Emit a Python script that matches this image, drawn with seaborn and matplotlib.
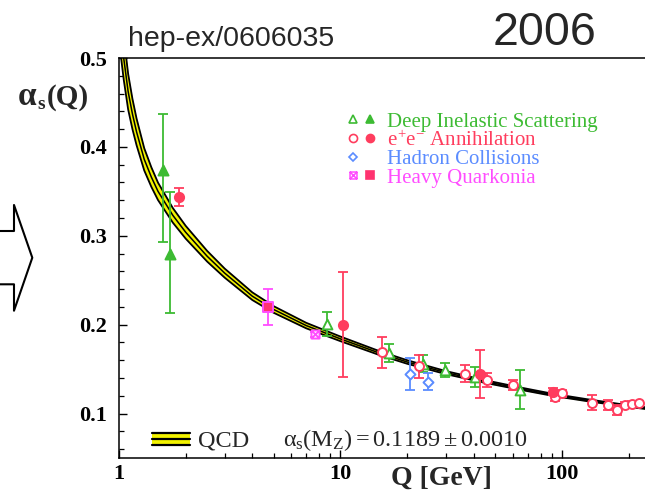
import matplotlib
matplotlib.use("Agg")
import matplotlib.pyplot as plt
import seaborn as sns
import numpy as np
from matplotlib.lines import Line2D
from matplotlib.patches import Rectangle
from matplotlib.path import Path
from matplotlib.legend_handler import HandlerTuple
from matplotlib.ticker import LogLocator, NullFormatter, MultipleLocator

# ---------------- data ----------------
# QCD running coupling band (central value and half-width)
qcd_Q = [1.02, 1.05, 1.1, 1.15, 1.2, 1.3, 1.4, 1.5, 1.75, 2.0, 2.5, 3.0, 4.0, 5.0,
         7.0, 10, 15, 20, 30, 45, 65, 91.2, 130, 180, 240]
qcd_a = [0.53, 0.50, 0.462, 0.437, 0.417, 0.386, 0.366, 0.350, 0.323, 0.304, 0.277,
         0.258, 0.232, 0.217, 0.199, 0.184, 0.168, 0.158, 0.146, 0.136, 0.128,
         0.121, 0.115, 0.110, 0.106]
qcd_hw = [0.028, 0.024, 0.020, 0.017, 0.015, 0.0125, 0.011, 0.0098, 0.0082, 0.0072,
          0.006, 0.0051, 0.0043, 0.0037, 0.0031, 0.0026, 0.0022, 0.002, 0.0017,
          0.0015, 0.0013, 0.0012, 0.0011, 0.001, 0.001]

# Deep inelastic scattering
dis_fill_Q = [1.575, 1.70]
dis_fill_a = [0.374, 0.279]
dis_fill_lo = [0.081, 0.066]
dis_fill_hi = [0.063, 0.070]
dis_open_Q = [8.66, 16.6, 23.6, 29.6, 40.5, 64.6]
dis_open_a = [0.201, 0.168, 0.156, 0.149, 0.141, 0.127]
dis_open_e = [0.0135, 0.010, 0.0095, 0.008, 0.011, 0.0215]

# e+e- annihilation
ee_fill_Q = [1.866, 10.23, 42.6, 91.2]
ee_fill_a = [0.344, 0.200, 0.144, 0.1245]
ee_fill_e = [0.010, 0.059, 0.027, 0.004]
ee_open_Q = [15.35, 22.5, 36.5, 46.0, 59.9, 92.7, 99.9, 136, 162, 178, 192, 206, 223]
ee_open_a = [0.169, 0.153, 0.145, 0.1376, 0.132, 0.1182, 0.1227, 0.112, 0.1096,
             0.104, 0.1096, 0.1107, 0.1115]
ee_open_e = [0.0175, 0.0125, 0.010, 0.008, 0.006, 0.004, 0.004, 0.0085, 0.0055,
             0.006, 0.003, 0.003, 0.003]

# Hadron collisions
had_Q = [20.6, 24.9]
had_a = [0.1444, 0.1357]
had_e = [0.018, 0.0095]

# Heavy quarkonia
hq_fill_Q = [4.72]
hq_fill_a = [0.220]
hq_fill_e = [0.020]
hq_open_Q = [7.67]
hq_open_a = [0.189]
hq_open_e = [0.003]

legend_labels = ["Deep Inelastic Scattering", r"$e^{+}e^{-}$ Annihilation",
                 "Hadron Collisions", "Heavy Quarkonia"]
x_ticks = [1, 10, 100]
x_ticklabels = ["1", "10", "100"]
y_ticks = [0.1, 0.2, 0.3, 0.4, 0.5]
y_ticklabels = ["0.1", "0.2", "0.3", "0.4", "0.5"]

# ---------------- style ----------------
GREEN = "#3dbb33"
RED = "#ff3d5e"
BLUE = "#5b8cff"
MAGENTA = "#ff4dff"
QRED = "#ff3370"
YELLOW = "#f2f200"

sns.set_theme(style="ticks")
plt.rcParams.update({
    "font.family": ["Liberation Serif", "DejaVu Serif"],
    "mathtext.fontset": "custom",
    "mathtext.rm": "Liberation Serif",
    "mathtext.it": "Liberation Serif",
    "mathtext.bf": "Liberation Serif:bold",
    "axes.linewidth": 1.1,
    "axes.edgecolor": "black",
    "xtick.direction": "in",
    "ytick.direction": "in",
    "xtick.color": "black",
    "ytick.color": "black",
})

W, H = 645, 497
fig = plt.figure(figsize=(W / 100, H / 100), dpi=100)
ax = fig.add_axes([119 / W, 1 - 458 / H, (W - 119) / W, (458 - 58) / H])
ax.set_xscale("log")

# box-with-cross marker
boxx = Path([(-1, -1), (1, -1), (1, 1), (-1, 1), (-1, -1), (-1, -1), (1, 1), (-1, 1), (1, -1)],
            [Path.MOVETO, Path.LINETO, Path.LINETO, Path.LINETO, Path.CLOSEPOLY,
             Path.MOVETO, Path.LINETO, Path.MOVETO, Path.LINETO])

# QCD band
q = np.array(qcd_Q)
a = np.array(qcd_a)
hw = np.array(qcd_hw)
ax.fill_between(q, a - hw, a + hw, color=YELLOW, lw=0, zorder=2)
sns.lineplot(x=q, y=a + hw, color="black", lw=1.3, ax=ax, zorder=3)
sns.lineplot(x=q, y=a - hw, color="black", lw=1.3, ax=ax, zorder=3)
sns.lineplot(x=q, y=a, color="black", lw=1.1, ax=ax, zorder=3)


def group(Q, A, lo, hi, color, marker, face, size, z=5):
    ax.errorbar(Q, A, yerr=[lo, hi], fmt="none", ecolor=color, elinewidth=1.3,
                capsize=3.8, capthick=1.3, zorder=z)
    sns.scatterplot(x=Q, y=A, marker=marker, s=size, color=face, edgecolor=color,
                    linewidth=1.4, ax=ax, zorder=z + 0.1, legend=False)


group(dis_fill_Q, dis_fill_a, dis_fill_lo, dis_fill_hi, GREEN, "^", GREEN, 52)
group(dis_open_Q, dis_open_a, dis_open_e, dis_open_e, GREEN, "^", "white", 50)
group(ee_open_Q, ee_open_a, ee_open_e, ee_open_e, RED, "o", "white", 42)
group(ee_fill_Q, ee_fill_a, ee_fill_e, ee_fill_e, RED, "o", RED, 44, z=6)
group(had_Q, had_a, had_e, had_e, BLUE, "D", "white", 26)
group(hq_fill_Q, hq_fill_a, hq_fill_e, hq_fill_e, MAGENTA, "s", QRED, 42)
group(hq_open_Q, hq_open_a, hq_open_e, hq_open_e, MAGENTA, boxx, "white", 34)

# axes
ax.set_xlim(1, 237)
ax.set_ylim(0.05, 0.5)
ax.set_xticks(x_ticks)
ax.set_xticklabels(x_ticklabels)
ax.xaxis.set_minor_locator(LogLocator(base=10, subs=np.arange(2, 10)))
ax.xaxis.set_minor_formatter(NullFormatter())
ax.set_yticks(y_ticks)
ax.set_yticklabels(y_ticklabels)
ax.yaxis.set_minor_locator(MultipleLocator(0.02))
ax.spines["right"].set_visible(False)
ax.tick_params(axis="both", which="major", length=6, width=1.0, labelsize=16)
ax.tick_params(axis="both", which="minor", length=3.5, width=0.9)
ax.tick_params(axis="y", pad=9)
ax.tick_params(axis="x", pad=4)
for t in ax.get_xticklabels() + ax.get_yticklabels():
    t.set_fontweight("bold")

ax.set_xlabel("Q [GeV]", fontsize=20, fontweight="bold")
ax.xaxis.set_label_coords((441 - 119) / 526, -(466 - 458) / 400)

# y label  alpha_s(Q)  in bold serif, built from pieces
fig.text(18 / W, 1 - 105 / H, "α", fontsize=24, fontweight="bold", va="baseline", ha="left")
fig.text(37 / W, 1 - 109 / H, "s", fontsize=14, fontweight="bold", va="baseline", ha="left")
fig.text(47 / W, 1 - 105 / H, "(Q)", fontsize=21, fontweight="bold", va="baseline", ha="left")

# category legend
ms = 5.8
h_dis = (Line2D([], [], ls="none", marker="^", mfc="white", mec=GREEN, ms=ms, mew=1.2),
         Line2D([], [], ls="none", marker="^", mfc=GREEN, mec=GREEN, ms=ms, mew=1.2))
h_ee = (Line2D([], [], ls="none", marker="o", mfc="white", mec=RED, ms=ms, mew=1.2),
        Line2D([], [], ls="none", marker="o", mfc=RED, mec=RED, ms=ms, mew=1.2))
h_had = (Line2D([], [], ls="none", marker="D", mfc="white", mec=BLUE, ms=4.4, mew=1.2),
         Line2D([], [], ls="none"))
h_hq = (Line2D([], [], ls="none", marker=boxx, mfc="white", mec=MAGENTA, ms=5, mew=1.1),
        Line2D([], [], ls="none", marker="s", mfc=QRED, mec=QRED, ms=ms, mew=1.2))
leg = ax.legend([h_dis, h_ee, h_had, h_hq], legend_labels,
                handler_map={tuple: HandlerTuple(ndivide=None, pad=0.2)},
                loc="upper left", bbox_to_anchor=(347 / W, 1 - 112 / H),
                bbox_transform=fig.transFigure, frameon=False, fontsize=15,
                handlelength=1.4, handletextpad=0.5, labelspacing=-0.05,
                borderpad=0, borderaxespad=0)
for t, c in zip(leg.get_texts(), [GREEN, RED, BLUE, MAGENTA]):
    t.set_color(c)

# QCD legend entry at the bottom
x0, x1 = (152 - 119) / 526, (190 - 119) / 526
yb, yt = (458 - 445) / 400, (458 - 433) / 400
ax.add_patch(Rectangle((x0, yb), x1 - x0, yt - yb, transform=ax.transAxes,
                       facecolor=YELLOW, edgecolor="none", zorder=4))
for yy in (yb, (yb + yt) / 2, yt):
    ax.plot([x0, x1], [yy, yy], transform=ax.transAxes, color="black", lw=1.6, zorder=5)
ax.text((198 - 119) / 526, (458 - 446) / 400, "QCD", transform=ax.transAxes,
        fontsize=17.5, va="baseline", ha="left")
ax.text((283 - 119) / 526, (458 - 446) / 400,
        r"$\alpha_{\rm s}(M_{\rm Z}) = 0.1189 \pm 0.0010$", transform=ax.transAxes,
        fontsize=17.5, va="baseline", ha="left")

# header texts
fig.text(128 / W, 1 - 46 / H, "hep-ex/0606035", fontsize=20.5, family="Liberation Sans",
         va="baseline", ha="left")
fig.text(493 / W, 1 - 45 / H, "2006", fontsize=33.5, family="Liberation Sans",
         va="baseline", ha="left")

# left arrow outline
arrow_pts = [(0, 231), (14, 231), (14, 205), (32.3, 257.7), (14, 310.7), (14, 284.3), (0, 284.3)]
fig.add_artist(Line2D([p[0] / W for p in arrow_pts], [1 - p[1] / H for p in arrow_pts],
                      transform=fig.transFigure, color="black", lw=1.5))

fig.savefig("out.png", dpi=100)
